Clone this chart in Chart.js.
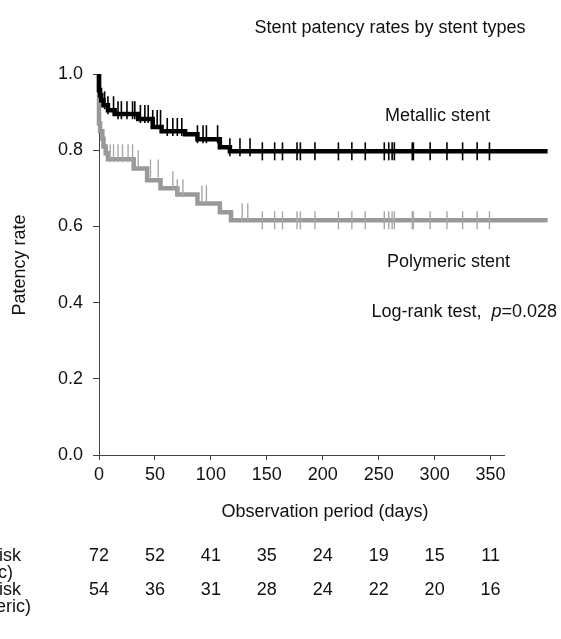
<!DOCTYPE html>
<html>
<head>
<meta charset="utf-8">
<script src="https://cdn.jsdelivr.net/npm/chart.js@4.4.0/dist/chart.umd.min.js"></script>
<style>
  html, body { margin: 0; padding: 0; background: #fff; }
  #wrap { width: 561px; height: 639px; }
</style>
</head>
<body>
<div id="wrap"><canvas id="km"></canvas></div>
<script>
// Kaplan-Meier steps (day, patency after the event)
const metallicDays = [0, 1, 2, 4, 8, 14, 35, 48, 56, 77, 88, 108, 117, 146, 401];
const metallicRate = [1.0, 0.958, 0.944, 0.931, 0.918, 0.905, 0.895, 0.882, 0.861, 0.85, 0.842, 0.829, 0.808, 0.797, 0.797];
const polymericDays = [0, 1, 3, 4, 6, 8, 31, 43, 55, 70, 88, 108, 118, 146, 401];
const polymericRate = [1.0, 0.87, 0.85, 0.83, 0.81, 0.792, 0.776, 0.752, 0.721, 0.70, 0.684, 0.66, 0.637, 0.616, 0.616];

// censored observations (days)
const metallicCensor = [5, 8, 13, 17, 20, 25, 30, 32, 37, 41, 44, 48, 52, 55, 61, 66, 70, 74, 88, 93, 96, 106, 117, 126, 135, 146, 157, 164, 177, 180, 193, 214, 226, 238, 255, 259, 262, 264, 280, 281, 296, 311, 325, 338, 349, 392, 394];
const polymericCensor = [10, 13, 17, 21, 26, 30, 35, 46, 53, 66, 70, 75, 92, 96, 128, 133, 146, 157, 164, 177, 180, 193, 214, 226, 238, 255, 259, 262, 264, 280, 281, 296, 311, 325, 338, 349, 392, 394];

// number at risk table
const riskDays = [0, 50, 100, 150, 200, 250, 300, 350];
const metallicAtRisk = [72, 52, 41, 35, 24, 19, 15, 11];
const polymericAtRisk = [54, 36, 31, 28, 24, 22, 20, 16];

const FONT = '"Liberation Sans", Arial, sans-serif';

function rateAt(days, rates, t) {
  let v = rates[0];
  for (let i = 0; i < days.length; i++) {
    if (days[i] <= t) v = rates[i];
  }
  return v;
}

const toXY = (xs, ys) => xs.map((x, i) => ({ x: x, y: ys[i] }));
const censorXY = (cs, days, rates) => cs.map(t => ({ x: t, y: rateAt(days, rates, t) }));

// free text: title, curve labels, axis titles, risk table
const textPlugin = {
  id: 'texts',
  afterDraw(chart) {
    const ctx = chart.ctx;
    const xs = chart.scales.x;
    ctx.save();
    ctx.fillStyle = '#111';
    ctx.font = '18px ' + FONT;
    ctx.textBaseline = 'middle';

    ctx.textAlign = 'center';
    ctx.fillText('Stent patency rates by stent types', 390, 28);

    ctx.textAlign = 'left';
    ctx.fillText('Metallic stent', 385, 116);
    ctx.fillText('Polymeric stent', 387, 262);

    // log-rank line, italic p
    const a = 'Log-rank test,  ';
    const b = 'p';
    const c = '=0.028';
    const wa = ctx.measureText(a).width;
    const wc = ctx.measureText(c).width;
    ctx.font = 'italic 18px ' + FONT;
    const wb = ctx.measureText(b).width;
    let x0 = 557 - wa - wb - wc;
    ctx.font = '18px ' + FONT;
    ctx.fillText(a, x0, 312);
    ctx.font = 'italic 18px ' + FONT;
    ctx.fillText(b, x0 + wa, 312);
    ctx.font = '18px ' + FONT;
    ctx.fillText(c, x0 + wa + wb, 312);

    // axis titles
    ctx.textAlign = 'center';
    ctx.fillText('Observation period (days)', 325, 512);
    ctx.save();
    ctx.translate(20, 265);
    ctx.rotate(-Math.PI / 2);
    ctx.fillText('Patency rate', 0, 0);
    ctx.restore();

    // number at risk
    ctx.textAlign = 'left';
    ctx.fillText('No. at risk', -60, 556);
    ctx.fillText('(Metallic)', -60, 573);
    ctx.fillText('No. at risk', -60, 590);
    ctx.fillText('(Polymeric)', -60, 607);
    ctx.textAlign = 'center';
    riskDays.forEach((d, i) => {
      const px = xs.getPixelForValue(d);
      ctx.fillText(String(metallicAtRisk[i]), px, 556);
      ctx.fillText(String(polymericAtRisk[i]), px, 590);
    });
    ctx.restore();
  }
};

const ctx = document.getElementById('km').getContext('2d');
new Chart(ctx, {
  type: 'line',
  data: {
    datasets: [
      {
        label: 'Metallic censored',
        data: censorXY(metallicCensor, metallicDays, metallicRate),
        showLine: false,
        pointStyle: 'line',
        rotation: 90,
        pointRadius: 9,
        pointBorderWidth: 1.6,
        borderColor: '#000',
        pointBorderColor: '#000',
        clip: false
      },
      {
        label: 'Metallic stent',
        data: toXY(metallicDays, metallicRate),
        stepped: 'after',
        borderColor: '#000',
        borderWidth: 4.5,
        pointRadius: 0,
        fill: false,
        clip: false
      },
      {
        label: 'Polymeric censored',
        data: censorXY(polymericCensor, polymericDays, polymericRate),
        showLine: false,
        pointStyle: 'line',
        rotation: 90,
        pointRadius: 9,
        pointBorderWidth: 1.4,
        borderColor: '#a8a8a8',
        pointBorderColor: '#a8a8a8',
        clip: false
      },
      {
        label: 'Polymeric stent',
        data: toXY(polymericDays, polymericRate),
        stepped: 'after',
        borderColor: '#999',
        borderWidth: 4.5,
        pointRadius: 0,
        fill: false,
        clip: false
      }
    ]
  },
  options: {
    responsive: true,
    maintainAspectRatio: false,
    animation: false,
    layout: { padding: { top: 74, right: 57, bottom: 0, left: 0 } },
    plugins: {
      legend: { display: false },
      tooltip: { enabled: false }
    },
    scales: {
      x: {
        type: 'linear',
        min: 0,
        max: 362,
        afterFit: s => { s.height = 184; },
        border: { display: true, color: '#444', width: 1 },
        grid: { display: true, drawOnChartArea: false, drawTicks: true, tickLength: 5, color: '#444' },
        ticks: {
          stepSize: 50,
          includeBounds: false,
          maxRotation: 0,
          padding: 4,
          color: '#111',
          font: { family: FONT, size: 18 }
        }
      },
      y: {
        min: 0,
        max: 1.0,
        afterFit: s => { s.width = 99; },
        border: { display: true, color: '#444', width: 1 },
        grid: { display: true, drawOnChartArea: false, drawTicks: true, tickLength: 6, color: '#444' },
        ticks: {
          stepSize: 0.2,
          padding: 10,
          color: '#111',
          font: { family: FONT, size: 18 },
          callback: v => v.toFixed(1)
        }
      }
    }
  },
  plugins: [textPlugin]
});
</script>
</body>
</html>
